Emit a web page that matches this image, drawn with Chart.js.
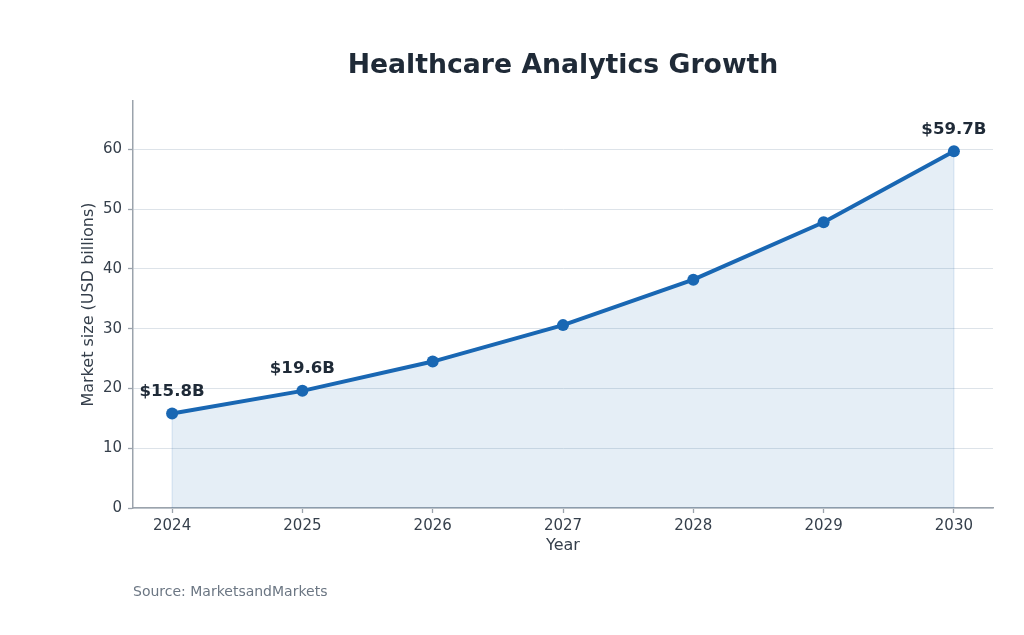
<!DOCTYPE html>
<html><head><meta charset="utf-8">
<script src="https://cdn.jsdelivr.net/npm/chart.js@4/dist/chart.umd.min.js"></script>
<style>html,body{margin:0;padding:0;background:#fff;overflow:hidden;} #wrap{width:1024px;height:635px;}</style>
</head><body><div id="wrap"><canvas id="c" width="1024" height="635"></canvas></div>
<script>
const years = [2024, 2025, 2026, 2027, 2028, 2029, 2030];
const marketSize = [15.8, 19.6, 24.5, 30.6, 38.2, 47.8, 59.7];
const pointLabels = ['$15.8B', '$19.6B', '', '', '', '', '$59.7B'];
const yTicks = [0, 10, 20, 30, 40, 50, 60];
const chartTitle = 'Healthcare Analytics Growth';
const yTitle = 'Market size (USD billions)';
const xTitle = 'Year';
const sourceNote = 'Source: MarketsandMarkets';

const FONT = "'DejaVu Sans', sans-serif";
const LINE = '#1967b3';
const DARK = '#1f2a37';
const TICK = '#353f4b';
const SPINE = '#9ba3ac';
const GRID = '#dde3e9';

const extras = {
  id: 'extras',
  beforeDatasetsDraw(chart) {
    // faint edges of the filled area at the first and last year
    const ctx = chart.ctx;
    const meta = chart.getDatasetMeta(0);
    const y0 = chart.scales.y.getPixelForValue(0);
    ctx.save();
    ctx.strokeStyle = 'rgba(25,103,179,0.13)';
    ctx.lineWidth = 1.2;
    [0, meta.data.length - 1].forEach(i => {
      const p = meta.data[i];
      ctx.beginPath();
      ctx.moveTo(p.x, y0);
      ctx.lineTo(p.x, p.y);
      ctx.stroke();
    });
    ctx.restore();
  },
  afterDatasetsDraw(chart) {
    const ctx = chart.ctx;
    const meta = chart.getDatasetMeta(0);
    ctx.save();
    ctx.fillStyle = DARK;
    ctx.font = "bold 16.6px " + FONT;
    ctx.textAlign = 'center';
    ctx.textBaseline = 'middle';
    pointLabels.forEach((lab, i) => {
      if (!lab) return;
      const p = meta.data[i];
      ctx.fillText(lab, p.x, p.y - 22);
    });
    ctx.restore();
  },
  afterDraw(chart) {
    const ctx = chart.ctx;
    const a = chart.chartArea;
    ctx.save();
    ctx.fillStyle = DARK;
    ctx.font = "bold 26.7px " + FONT;
    ctx.textAlign = 'center';
    ctx.textBaseline = 'middle';
    ctx.fillText(chartTitle, (a.left + a.right) / 2, 66);
    ctx.fillStyle = '#6b7683';
    ctx.font = "14px " + FONT;
    ctx.textAlign = 'left';
    ctx.fillText(sourceNote, a.left, 592);
    ctx.restore();
  }
};

new Chart(document.getElementById('c'), {
  type: 'line',
  data: {
    datasets: [{
      data: years.map((y, i) => ({ x: y, y: marketSize[i] })),
      borderColor: LINE,
      borderWidth: 4,
      backgroundColor: 'rgba(25,103,179,0.115)',
      fill: 'origin',
      tension: 0,
      pointRadius: 6,
      pointBackgroundColor: LINE,
      pointBorderColor: LINE,
      pointBorderWidth: 0
    }]
  },
  options: {
    responsive: false,
    devicePixelRatio: 1,
    animation: false,
    layout: { padding: { top: 101, right: 31, bottom: 0, left: 0 } },
    plugins: { legend: { display: false }, tooltip: { enabled: false }, title: { display: false } },
    scales: {
      x: {
        type: 'linear',
        min: 2023.7,
        max: 2030.3,
        afterBuildTicks: s => { s.ticks = years.map(v => ({ value: v })); },
        afterFit: s => { s.height = 127; },
        ticks: { callback: v => String(v), color: TICK, font: { family: FONT, size: 15 }, padding: 4 },
        grid: { drawOnChartArea: false, drawTicks: true, tickLength: 5, tickColor: SPINE, tickWidth: 1.3 },
        border: { color: SPINE, width: 1.5 },
        title: { display: true, text: xTitle, color: TICK, font: { family: FONT, size: 16 }, padding: { top: 0, bottom: 79.4 } }
      },
      y: {
        type: 'linear',
        min: 0,
        max: 68.1,
        afterBuildTicks: s => { s.ticks = yTicks.map(v => ({ value: v })); },
        afterFit: s => { s.width = 133; },
        ticks: { callback: v => String(v), color: TICK, font: { family: FONT, size: 15 }, padding: 6 },
        grid: { color: GRID, lineWidth: 1, drawTicks: true, tickLength: 5, tickColor: SPINE, tickWidth: 1.3 },
        border: { color: SPINE, width: 1.5 },
        title: { display: true, text: yTitle, color: TICK, font: { family: FONT, size: 16 }, padding: { top: 79, bottom: 0 } }
      }
    }
  },
  plugins: [extras]
});
</script>
</body></html>
